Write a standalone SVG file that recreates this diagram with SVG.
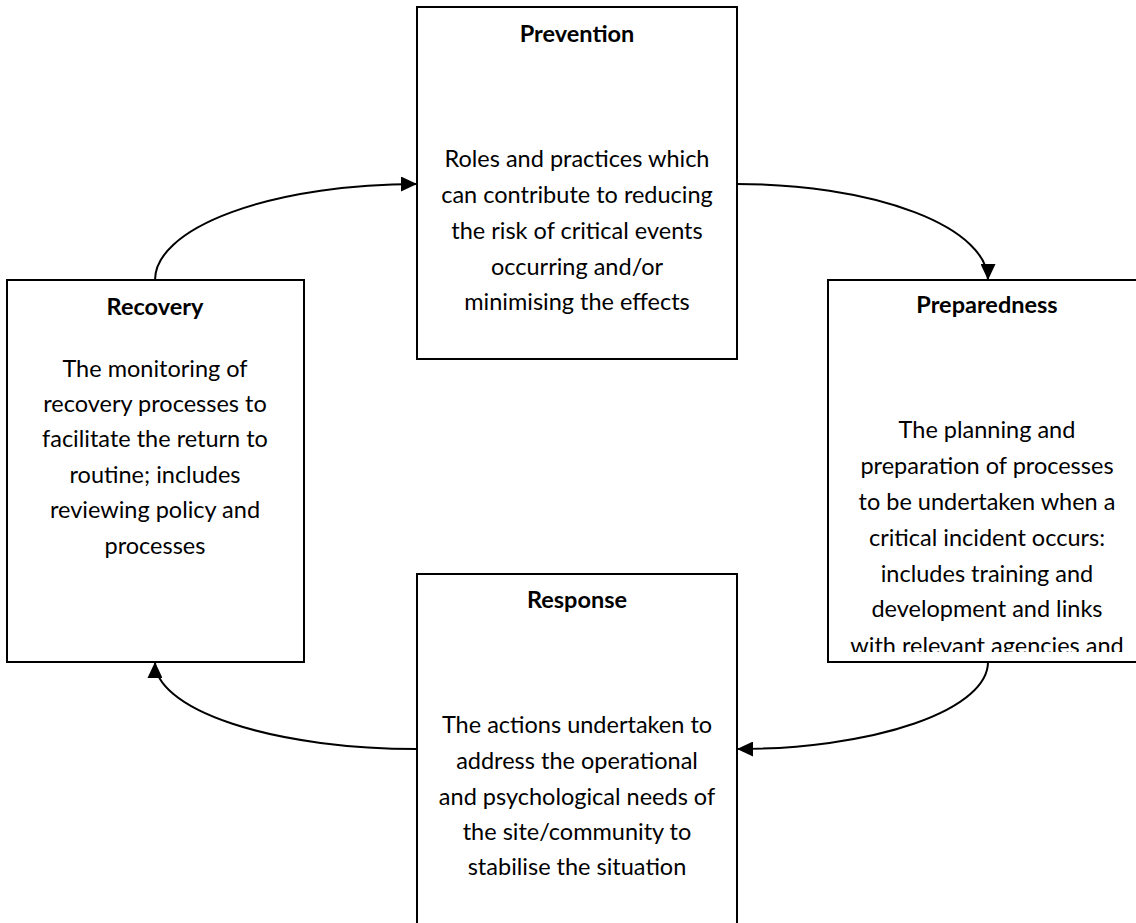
<svg xmlns="http://www.w3.org/2000/svg" width="1136" height="923" viewBox="0 0 1136 923">
<style>
.box{fill:#fff;stroke:#000;stroke-width:2}
.t{font-family:Lato,"Open Sans",sans-serif;font-size:23.5px;fill:#000;text-anchor:middle}
.h{font-weight:bold}
.c{fill:none;stroke:#000;stroke-width:2;marker-end:url(#ah)}
</style>
<defs>
<marker id="ah" viewBox="0 0 10 10" refX="10" refY="5" markerWidth="16" markerHeight="15" markerUnits="userSpaceOnUse" orient="auto" preserveAspectRatio="none">
<path d="M0,0 L10,5 L0,10 Z" fill="#000"/>
</marker>
<clipPath id="prepClip"><rect x="829" y="281" width="320" height="371"/></clipPath>
</defs>
<rect width="1136" height="923" fill="#fff"/>
<g id="connectors">
<path class="c" d="M155,280 A262,96 0 0 1 417,184"/>
<path class="c" d="M737,184 A251,96 0 0 1 988,280"/>
<path class="c" d="M988,662 A251,87 0 0 1 737,749"/>
<path class="c" d="M417,749 A262,87 0 0 1 155,662"/>
</g>
<g id="prevention">
<rect class="box" x="417" y="7" width="320" height="352"/>
<text class="t h" x="577" y="42">Prevention</text>
<text class="t" x="577" y="167">Roles and practices which</text>
<text class="t" x="577" y="203">can contribute to reducing</text>
<text class="t" x="577" y="239">the risk of critical events</text>
<text class="t" x="577" y="275">occurring and/or</text>
<text class="t" x="577" y="310">minimising the effects</text>
</g>
<g id="preparedness">
<rect class="box" x="828" y="280" width="320" height="382"/>
<g clip-path="url(#prepClip)">
<text class="t h" x="987" y="313">Preparedness</text>
<text class="t" x="987" y="438">The planning and</text>
<text class="t" x="987" y="474">preparation of processes</text>
<text class="t" x="987" y="510">to be undertaken when a</text>
<text class="t" x="987" y="546">critical incident occurs:</text>
<text class="t" x="987" y="582">includes training and</text>
<text class="t" x="987" y="617">development and links</text>
<text class="t" x="987" y="654">with relevant agencies and</text>
</g>
</g>
<g id="recovery">
<rect class="box" x="7" y="280" width="297" height="382"/>
<text class="t h" x="155" y="315">Recovery</text>
<text class="t" x="155" y="377">The monitoring of</text>
<text class="t" x="155" y="412">recovery processes to</text>
<text class="t" x="155" y="447">facilitate the return to</text>
<text class="t" x="155" y="483">routine; includes</text>
<text class="t" x="155" y="518">reviewing policy and</text>
<text class="t" x="155" y="554">processes</text>
</g>
<g id="response">
<rect class="box" x="417" y="574" width="320" height="400"/>
<text class="t h" x="577" y="608">Response</text>
<text class="t" x="577" y="733">The actions undertaken to</text>
<text class="t" x="577" y="769">address the operational</text>
<text class="t" x="577" y="805">and psychological needs of</text>
<text class="t" x="577" y="840">the site/community to</text>
<text class="t" x="577" y="875">stabilise the situation</text>
</g>
</svg>
